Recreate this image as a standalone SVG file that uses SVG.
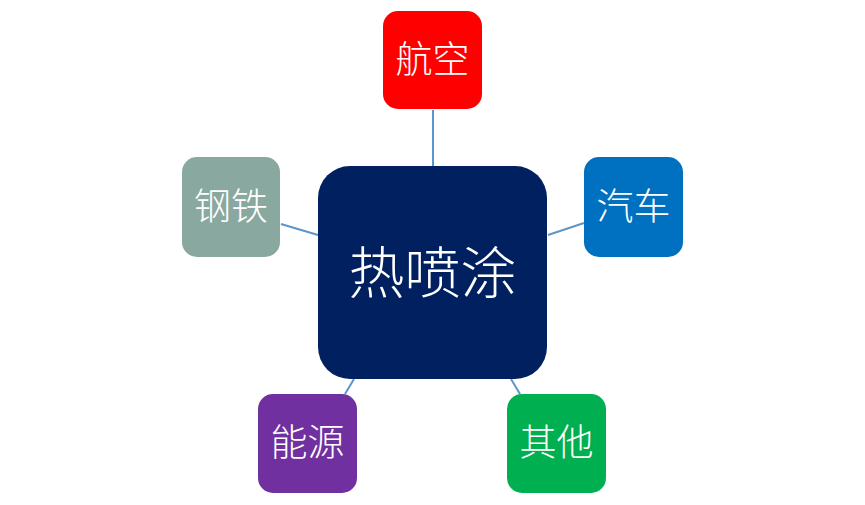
<svg xmlns="http://www.w3.org/2000/svg" width="865" height="505" viewBox="0 0 865 505">
<style>
.t{font-family:"Noto Sans CJK SC","Noto Sans",sans-serif;font-weight:300;fill:#ffffff;text-anchor:middle;dominant-baseline:central}
.s{font-size:37px}
.c{font-size:56px}
.ln{stroke:#5B95CC;stroke-width:2;fill:none}
</style>
<rect width="865" height="505" fill="#ffffff"/>
<g id="connectors">
<line class="ln" x1="433" y1="110" x2="433" y2="166"/>
<line class="ln" x1="548" y1="235" x2="584" y2="223"/>
<line class="ln" x1="281" y1="224" x2="318" y2="235"/>
<line class="ln" x1="354" y1="379" x2="345" y2="394"/>
<line class="ln" x1="511" y1="379" x2="520" y2="394"/>
</g>
<g id="center">
<rect x="318" y="166" width="229" height="213" rx="32" fill="#002060"/>
<text class="t c" x="432.5" y="268">热喷涂</text>
</g>
<g id="aviation">
<rect x="383" y="11" width="99" height="98" rx="15" fill="#FF0000"/>
<text class="t s" x="432.5" y="57">航空</text>
</g>
<g id="auto">
<rect x="584" y="157" width="99" height="100" rx="15" fill="#0070C0"/>
<text class="t s" x="633.5" y="204">汽车</text>
</g>
<g id="steel">
<rect x="182" y="157" width="98" height="100" rx="15" fill="#89A8A0"/>
<text class="t s" x="231" y="204">钢铁</text>
</g>
<g id="energy">
<rect x="258" y="394" width="99" height="99" rx="15" fill="#7030A0"/>
<text class="t s" x="307.5" y="440">能源</text>
</g>
<g id="other">
<rect x="507" y="394" width="99" height="99" rx="15" fill="#00B050"/>
<text class="t s" x="556.5" y="440">其他</text>
</g>
</svg>
